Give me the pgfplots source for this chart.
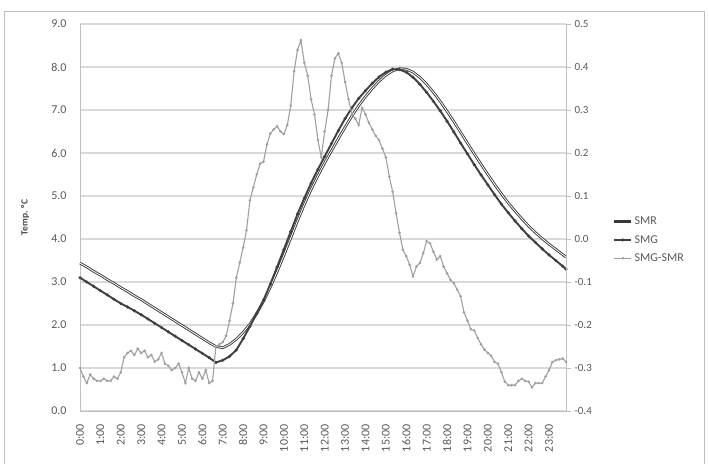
\documentclass[border=0pt]{standalone}
\usepackage{fontspec}
\setmainfont{Carlito}
\usepackage{pgfplots}
\usepackage{pgfplotstable}
\pgfplotsset{compat=1.18}
\definecolor{txt}{HTML}{595959}
\definecolor{gridc}{HTML}{D9D9D9}
\definecolor{axc}{HTML}{BFBFBF}
\definecolor{smr}{HTML}{383838}
\definecolor{smg}{HTML}{404040}
\definecolor{diffc}{HTML}{A0A0A0}

\pgfplotstableread{
m smr smg
0 3.44 3.10
20 3.35 3.00
40 3.25 2.90
60 3.16 2.80
80 3.06 2.70
100 2.97 2.60
120 2.87 2.50
140 2.78 2.42
160 2.68 2.33
180 2.59 2.24
200 2.49 2.14
220 2.39 2.04
240 2.29 1.94
260 2.19 1.84
280 2.09 1.74
300 1.99 1.64
320 1.89 1.54
340 1.79 1.44
360 1.69 1.34
380 1.59 1.24
400 1.50 1.13
420 1.47 1.18
440 1.55 1.27
460 1.67 1.42
480 1.83 1.68
500 2.02 1.97
520 2.27 2.27
540 2.55 2.58
560 2.88 2.95
580 3.24 3.35
600 3.62 3.76
620 4.02 4.17
640 4.42 4.58
660 4.80 4.95
680 5.15 5.30
700 5.47 5.62
720 5.77 5.92
740 6.05 6.22
760 6.33 6.52
780 6.60 6.80
800 6.86 7.05
820 7.10 7.27
840 7.31 7.45
860 7.50 7.62
880 7.67 7.77
900 7.81 7.88
920 7.91 7.95
940 7.96 7.94
960 7.95 7.88
980 7.88 7.76
1000 7.76 7.60
1020 7.60 7.41
1040 7.41 7.20
1060 7.20 6.98
1080 6.97 6.74
1100 6.73 6.49
1120 6.48 6.23
1140 6.23 5.98
1160 5.98 5.73
1180 5.74 5.49
1200 5.50 5.26
1220 5.27 5.03
1240 5.05 4.81
1260 4.84 4.61
1280 4.65 4.42
1300 4.47 4.24
1320 4.30 4.07
1340 4.15 3.92
1360 4.01 3.77
1380 3.88 3.63
1400 3.76 3.50
1420 3.64 3.37
1430 3.58 3.30
}\temps

\pgfplotstableread{
m d
0 -0.300
10 -0.320
20 -0.335
30 -0.315
40 -0.325
50 -0.330
60 -0.330
70 -0.325
80 -0.330
90 -0.330
100 -0.320
110 -0.325
120 -0.310
130 -0.275
140 -0.265
150 -0.260
160 -0.270
170 -0.255
180 -0.265
190 -0.260
200 -0.275
210 -0.270
220 -0.285
230 -0.280
240 -0.265
250 -0.290
260 -0.295
270 -0.305
280 -0.300
290 -0.290
300 -0.310
310 -0.335
320 -0.300
330 -0.325
340 -0.330
350 -0.310
360 -0.325
370 -0.305
380 -0.335
390 -0.330
400 -0.250
410 -0.245
420 -0.240
430 -0.225
440 -0.190
450 -0.150
460 -0.090
470 -0.055
480 -0.020
490 0.020
500 0.090
510 0.120
520 0.150
530 0.175
540 0.180
550 0.220
560 0.245
570 0.255
580 0.262
590 0.250
600 0.244
610 0.265
620 0.310
630 0.390
640 0.440
650 0.462
660 0.410
670 0.380
680 0.325
690 0.290
700 0.230
710 0.190
720 0.250
730 0.300
740 0.380
750 0.420
760 0.432
770 0.410
780 0.365
790 0.325
800 0.290
810 0.280
820 0.265
830 0.305
840 0.290
850 0.270
860 0.255
870 0.240
880 0.230
890 0.210
900 0.190
910 0.145
920 0.110
930 0.060
940 0.015
950 -0.025
960 -0.040
970 -0.060
980 -0.087
990 -0.064
1000 -0.056
1010 -0.033
1020 -0.005
1030 -0.010
1040 -0.030
1050 -0.048
1060 -0.040
1070 -0.064
1080 -0.080
1090 -0.095
1100 -0.103
1110 -0.118
1120 -0.133
1130 -0.171
1140 -0.190
1150 -0.210
1160 -0.213
1170 -0.230
1180 -0.245
1190 -0.257
1200 -0.265
1210 -0.272
1220 -0.286
1230 -0.290
1240 -0.310
1250 -0.332
1260 -0.340
1270 -0.340
1280 -0.340
1290 -0.330
1300 -0.325
1310 -0.330
1320 -0.332
1330 -0.345
1340 -0.335
1350 -0.335
1360 -0.335
1370 -0.320
1380 -0.305
1390 -0.286
1400 -0.282
1410 -0.280
1420 -0.278
1430 -0.286
}\diffs

\pgfplotsset{
  common/.style={
    at={(80pt,52pt)}, anchor=south west,
    width=486pt, height=387pt, scale only axis,
    xmin=0, xmax=1430,
    tick label style={font=\fontsize{12}{14}\selectfont, text=txt},
    /pgf/number format/assume math mode=true,
  },
  smrstyle/.style={smr, line width=2.6pt, line join=round},
  smgstyle/.style={smg, line width=1.9pt, mark=*, mark size=1.4pt, mark options={fill=smg, draw=smg, line width=0.4pt}},
  diffstyle/.style={diffc, line width=1.1pt, mark=*, mark size=0.7pt, mark options={fill=diffc, draw=diffc}},
}

\begin{document}
\begin{tikzpicture}[x=1pt,y=1pt]
\useasboundingbox (0,0) rectangle (709,463);
\draw[axc, line width=0.8pt] (4,-10) rectangle (704,452);

\begin{axis}[
  common,
  ymin=0, ymax=9,
  axis x line*=bottom, axis y line*=left,
  axis line style={axc, line width=1pt},
  ytick={0,1,...,9},
  yticklabel style={/pgf/number format/.cd, fixed, fixed zerofill, precision=1},
  yticklabel shift=10pt,
  xtick={0,60,...,1380},
  xticklabels={0:00,1:00,2:00,3:00,4:00,5:00,6:00,7:00,8:00,9:00,10:00,11:00,12:00,13:00,14:00,15:00,16:00,17:00,18:00,19:00,20:00,21:00,22:00,23:00},
  xticklabel style={rotate=90, anchor=east},
  xticklabel shift=10pt,
  major tick length=0pt,
  ymajorgrids, grid style={gridc, line width=1.3pt},
  ylabel={Temp. °C},
  ylabel style={at={(axis description cs:-0.113,0.5)}, anchor=center, font=\bfseries\fontsize{9.5}{11}\selectfont, text=txt!80!black},
  clip=false,
]
\addplot[smrstyle] table[x=m, y=smr] {\temps};
\addplot[white, line width=0.8pt] table[x=m, y=smr] {\temps};
\addplot[smgstyle] table[x=m, y=smg] {\temps};
\end{axis}

\begin{axis}[
  common,
  ymin=-0.4, ymax=0.5,
  axis x line=none, axis y line*=right,
  axis line style={axc, line width=1pt},
  ytick={-0.4,-0.3,-0.2,-0.1,0,0.1,0.2,0.3,0.4,0.5},
  yticklabel style={/pgf/number format/.cd, fixed, fixed zerofill, precision=1},
  tick label style={font=\fontsize{11}{13}\selectfont, text=txt},
  ytick style={axc, line width=0.8pt},
  major tick length=5pt, tick align=outside,
  legend style={at={(1.09,0.442)}, anchor=west, draw=none, fill=none,
    font=\fontsize{12}{14}\selectfont, text=txt, row sep=5pt},
  legend cell align=left,
]
\addlegendimage{smrstyle}
\addlegendentry{SMR}
\addlegendimage{smgstyle}
\addlegendentry{SMG}
\addplot[diffstyle] table[x=m, y=d] {\diffs};
\addlegendentry{SMG-SMR}
\end{axis}
\end{tikzpicture}
\end{document}
